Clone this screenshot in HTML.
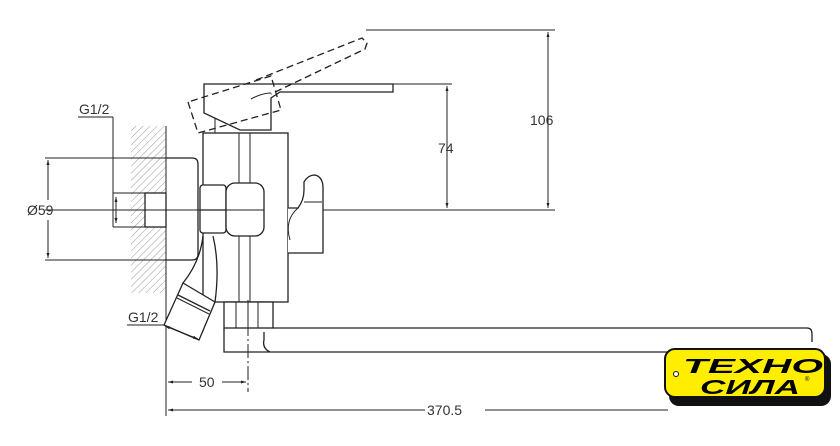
<!DOCTYPE html>
<html><head><meta charset="utf-8"><style>
html,body{margin:0;padding:0;background:#fff;}
svg{display:block;}
text{font-family:"Liberation Sans",sans-serif;fill:#333;}
</style></head><body>
<svg width="840" height="446" viewBox="0 0 840 446" xmlns="http://www.w3.org/2000/svg">
<defs>
<pattern id="h" width="5" height="5" patternUnits="userSpaceOnUse" patternTransform="rotate(45)">
<line x1="0" y1="0" x2="0" y2="5" stroke="#999" stroke-width="1"/>
</pattern>
<marker id="a" viewBox="0 0 10 10" refX="10" refY="5" markerWidth="7" markerHeight="5" orient="auto-start-reverse"><path d="M0,2 L10,5 L0,8z" fill="#222"/></marker>
</defs>
<g fill="none" stroke="#222" stroke-width="1.3">
<!-- wall -->
<rect x="131" y="126" width="35" height="167" fill="url(#h)" stroke="none"/>
<line x1="166" y1="126" x2="166" y2="416" stroke-width="1"/>
<!-- centerline -->
<line x1="45" y1="210" x2="555" y2="210" stroke-width="1"/>
<!-- flange -->
<path d="M166,158 H192 Q198,158 198,164 V254 Q198,260 192,260 H166"/>
<!-- stub -->
<rect x="145" y="193" width="21" height="34" fill="#fff"/>
<line x1="145" y1="210" x2="166" y2="210" stroke-width="1"/>
<!-- body -->
<rect x="203" y="133" width="85" height="169" fill="#fff"/>
<line x1="239" y1="133" x2="239" y2="302" stroke-width="1"/>
<line x1="250" y1="133" x2="250" y2="302" stroke-width="1"/>
<!-- hex nut -->
<rect x="200" y="185" width="26" height="48" rx="3" fill="#fff"/>
<line x1="200" y1="210" x2="226" y2="210"/>
<!-- rounded nut -->
<rect x="226" y="183" width="38" height="53" rx="9" fill="#fff"/>
<line x1="226" y1="210" x2="264" y2="210" stroke-width="1"/>
<!-- right lever -->
<path d="M288,208 H298 Q304,200 304,190 V182 Q308,175 315,175 Q323,177 323,188 V253 H288" fill="#fff"/>
<path d="M298,208 Q284,220 290,240" stroke-width="1"/>
<line x1="304" y1="202" x2="322" y2="202" stroke-width="1"/>
<!-- cartridge/handle -->
<path d="M204,84 V113 L240,130 H271 V98 L280,92 H393 V84 Z" fill="#fff"/>
<path d="M251,99 Q262,93 271,93" stroke-width="1"/>
<line x1="215" y1="118" x2="215" y2="133" stroke-width="1"/>
<!-- dashed handle -->
<path d="M188,102 L198,133 L281,110 L271,76 Z" stroke-dasharray="7,4"/>
<path d="M256,80 L362,38 L367,43 L365,49 L271,94" stroke-dasharray="7,4"/>
<!-- angled outlet -->
<path d="M203,236 Q200,262 183,283" />
<path d="M213,236 Q220,265 215,302" />
<path d="M183,283 L215,302 L199,340 L164,325 Z" fill="#fff"/>
<line x1="178" y1="295" x2="210" y2="311"/>
<line x1="177" y1="298" x2="209" y2="314" stroke-width="1"/>
<!-- spout nut -->
<rect x="224" y="302" width="49" height="26" fill="#fff"/>
<line x1="236" y1="302" x2="236" y2="328" stroke-width="1"/>
<line x1="248" y1="302" x2="248" y2="328" stroke-width="1"/>
<line x1="258" y1="302" x2="258" y2="328" stroke-width="1"/>
<!-- spout -->
<path d="M224,328 V352 H275 M264,332 V340 Q262,348 270,352 H668" />
<path d="M273,328 H807 Q812,328 812,334 V342"/>
<line x1="248" y1="300" x2="248" y2="392" stroke-width="1" stroke-dasharray="14,3,2,3"/>
<!-- dims right -->
<line x1="393" y1="84" x2="452" y2="84" stroke-width="1"/>
<line x1="447" y1="86" x2="447" y2="208" stroke-width="1" marker-start="url(#a)" marker-end="url(#a)"/>
<line x1="366" y1="30" x2="555" y2="30" stroke-width="1"/>
<line x1="548" y1="32" x2="548" y2="208" stroke-width="1" marker-start="url(#a)" marker-end="url(#a)"/>
<!-- Ø59 -->
<line x1="45" y1="158" x2="166" y2="158" stroke-width="1"/>
<line x1="45" y1="260" x2="166" y2="260" stroke-width="1"/>
<line x1="48" y1="160" x2="48" y2="200" stroke-width="1" marker-start="url(#a)"/>
<line x1="48" y1="220" x2="48" y2="258" stroke-width="1" marker-end="url(#a)"/>
<!-- G1/2 top -->
<line x1="78" y1="117" x2="113" y2="117" stroke-width="1"/>
<line x1="113" y1="117" x2="113" y2="227" stroke-width="1"/>
<line x1="113" y1="193" x2="145" y2="193" stroke-width="1"/>
<line x1="113" y1="227" x2="145" y2="227" stroke-width="1"/>
<line x1="116" y1="197" x2="116" y2="223" stroke-width="1" marker-start="url(#a)" marker-end="url(#a)"/>
<!-- G1/2 bottom -->
<line x1="127" y1="325" x2="165" y2="325" stroke-width="1"/>
<line x1="165" y1="326" x2="198" y2="339" stroke-width="1" marker-start="url(#a)" marker-end="url(#a)"/>
<!-- 50 -->
<line x1="168" y1="382" x2="192" y2="382" stroke-width="1" marker-start="url(#a)"/>
<line x1="222" y1="382" x2="246" y2="382" stroke-width="1" marker-end="url(#a)"/>
<!-- 370.5 -->
<line x1="168" y1="410" x2="425" y2="410" stroke-width="1" marker-start="url(#a)"/>
<line x1="485" y1="410" x2="668" y2="410" stroke-width="1"/>
</g>
<g font-size="14">
<text x="438" y="153">74</text>
<text x="530" y="125">106</text>
<text x="27" y="215">Ø59</text>
<text x="79" y="114">G1/2</text>
<text x="128" y="322">G1/2</text>
<text x="199" y="387">50</text>
<text x="427" y="415">370.5</text>
</g>
<!-- logo -->
<rect x="669" y="354" width="162" height="52" rx="10" fill="#111"/>
<rect x="665" y="349" width="160" height="48" rx="10" fill="#ffee00" stroke="#111" stroke-width="2"/>
<circle cx="676" cy="374" r="2.5" fill="#fff" stroke="#111" stroke-width="1"/>
<text x="753" y="373" text-anchor="middle" font-size="20" font-weight="bold" font-style="italic" style="fill:#000" textLength="140" lengthAdjust="spacingAndGlyphs">ТЕХНО</text>
<text x="750" y="394" text-anchor="middle" font-size="20" font-weight="bold" font-style="italic" style="fill:#000" textLength="100" lengthAdjust="spacingAndGlyphs">СИЛА</text>
<text x="805" y="381" font-size="6" style="fill:#000">®</text>
</svg>
</body></html>
